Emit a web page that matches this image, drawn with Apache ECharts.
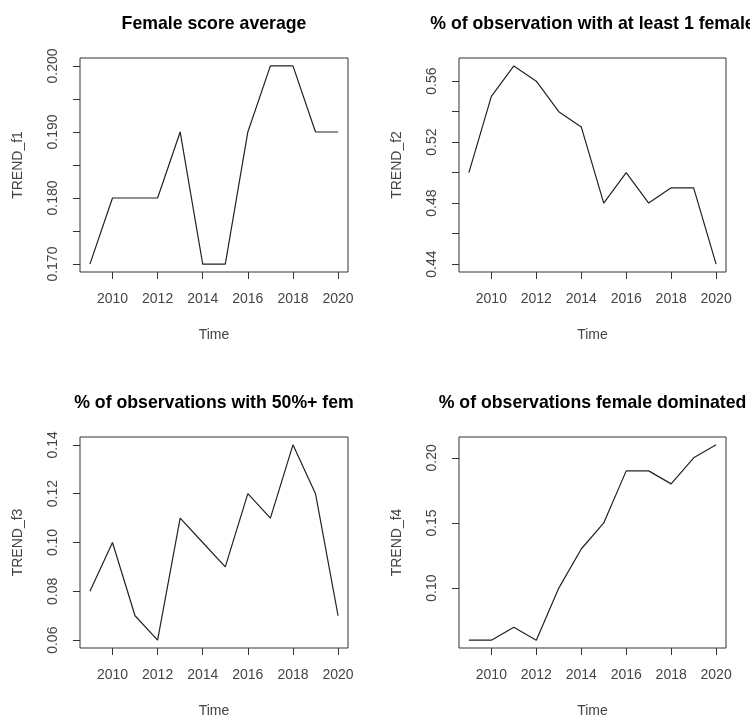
<!DOCTYPE html>
<html>
<head>
<meta charset="utf-8">
<script src="https://cdn.jsdelivr.net/npm/echarts@6/dist/echarts.min.js"></script>
<style>
    html, body { margin: 0; padding: 0; background: #ffffff; }
    #chart { width: 750px; height: 719px; }
</style>
</head>
<body>
<div id="chart"></div>
<script>
    // data
    const years = [2009, 2010, 2011, 2012, 2013, 2014, 2015, 2016, 2017, 2018, 2019, 2020];
    const trendF1 = [0.17, 0.18, 0.18, 0.18, 0.19, 0.17, 0.17, 0.19, 0.20, 0.20, 0.19, 0.19];
    const trendF2 = [0.50, 0.55, 0.57, 0.56, 0.54, 0.53, 0.48, 0.50, 0.48, 0.49, 0.49, 0.44];
    const trendF3 = [0.08, 0.10, 0.07, 0.06, 0.11, 0.10, 0.09, 0.12, 0.11, 0.14, 0.12, 0.07];
    const trendF4 = [0.06, 0.06, 0.07, 0.06, 0.10, 0.13, 0.15, 0.19, 0.19, 0.18, 0.20, 0.21];

    const titles = [
        'Female score average',
        '% of observation with at least 1 female',
        '% of observations with 50%+ fem',
        '% of observations female dominated'
    ];
    const yNames = ['TREND_f1', 'TREND_f2', 'TREND_f3', 'TREND_f4'];

    // tick marks and labelled ticks
    const xTicks = [2010, 2012, 2014, 2016, 2018, 2020];
    const f1Ticks = [0.170, 0.175, 0.180, 0.185, 0.190, 0.195, 0.200];
    const f1Labels = [0.170, 0.180, 0.190, 0.200];
    const f2Ticks = [0.44, 0.46, 0.48, 0.50, 0.52, 0.54, 0.56];
    const f2Labels = [0.44, 0.48, 0.52, 0.56];
    const f3Ticks = [0.06, 0.08, 0.10, 0.12, 0.14];
    const f4Ticks = [0.10, 0.15, 0.20];

    const font = '"Liberation Sans", Arial, sans-serif';
    const gray = '#444444';

    const panels = [
        { values: trendF1, ticks: f1Ticks, labels: f1Labels, digits: 3 },
        { values: trendF2, ticks: f2Ticks, labels: f2Labels, digits: 2 },
        { values: trendF3, ticks: f3Ticks, labels: f3Ticks, digits: 2 },
        { values: trendF4, ticks: f4Ticks, labels: f4Ticks, digits: 2 }
    ];

    // plot regions [left, top, width, height]
    const boxes = [
        [80, 58, 268, 214],
        [459, 58, 267, 214],
        [80, 437, 268, 213],
        [459, 437, 267, 213]
    ];

    // R pads each axis range by 4%
    function padded(arr) {
        let lo = Math.min(...arr), hi = Math.max(...arr);
        let p = (hi - lo) * 0.04;
        return [lo - p, hi + p];
    }

    let xr = padded(years);
    let option = { animation: false, title: [], grid: [], xAxis: [], yAxis: [], series: [] };

    for (let i = 0; i < panels.length; i++) {
        let b = boxes[i];
        let pnl = panels[i];
        let yr = padded(pnl.values);

        option.title.push({
            text: titles[i],
            left: b[0] + b[2] / 2,
            top: i < 2 ? 15 : 394,
            textAlign: 'center',
            padding: 0,
            textStyle: { fontFamily: font, fontSize: 17.7, fontWeight: 'bold', color: '#000' }
        });
        option.grid.push({
            left: b[0], top: b[1], width: b[2], height: b[3],
            show: true, borderColor: '#333', borderWidth: 1
        });
        option.xAxis.push({
            gridIndex: i,
            type: 'value',
            min: xr[0], max: xr[1],
            name: 'Time',
            nameLocation: 'middle',
            nameGap: 56,
            nameTextStyle: { fontFamily: font, fontSize: 14, color: gray },
            axisLine: { show: false },
            axisTick: { show: true, length: 7, customValues: xTicks, lineStyle: { color: '#333' } },
            axisLabel: {
                customValues: xTicks, margin: 20,
                fontFamily: font, fontSize: 14, color: gray,
                formatter: v => String(v)
            },
            splitLine: { show: false }
        });
        option.yAxis.push({
            gridIndex: i,
            type: 'value',
            min: yr[0], max: yr[1],
            name: yNames[i],
            nameLocation: 'middle',
            nameRotate: 90,
            nameGap: 55,
            nameTextStyle: { fontFamily: font, fontSize: 14, color: gray },
            axisLine: { show: false },
            axisTick: { show: true, length: 7, customValues: pnl.ticks, lineStyle: { color: '#333' } },
            axisLabel: {
                customValues: pnl.labels, margin: 20, rotate: 90,
                fontFamily: font, fontSize: 14, color: gray,
                formatter: v => v.toFixed(pnl.digits)
            },
            splitLine: { show: false }
        });
        option.series.push({
            type: 'line',
            xAxisIndex: i,
            yAxisIndex: i,
            data: years.map((y, k) => [y, pnl.values[k]]),
            symbol: 'none',
            lineStyle: { color: '#222', width: 1.2 }
        });
    }

    let myChart = echarts.init(document.getElementById('chart'));
    myChart.setOption(option);
</script>
</body>
</html>
